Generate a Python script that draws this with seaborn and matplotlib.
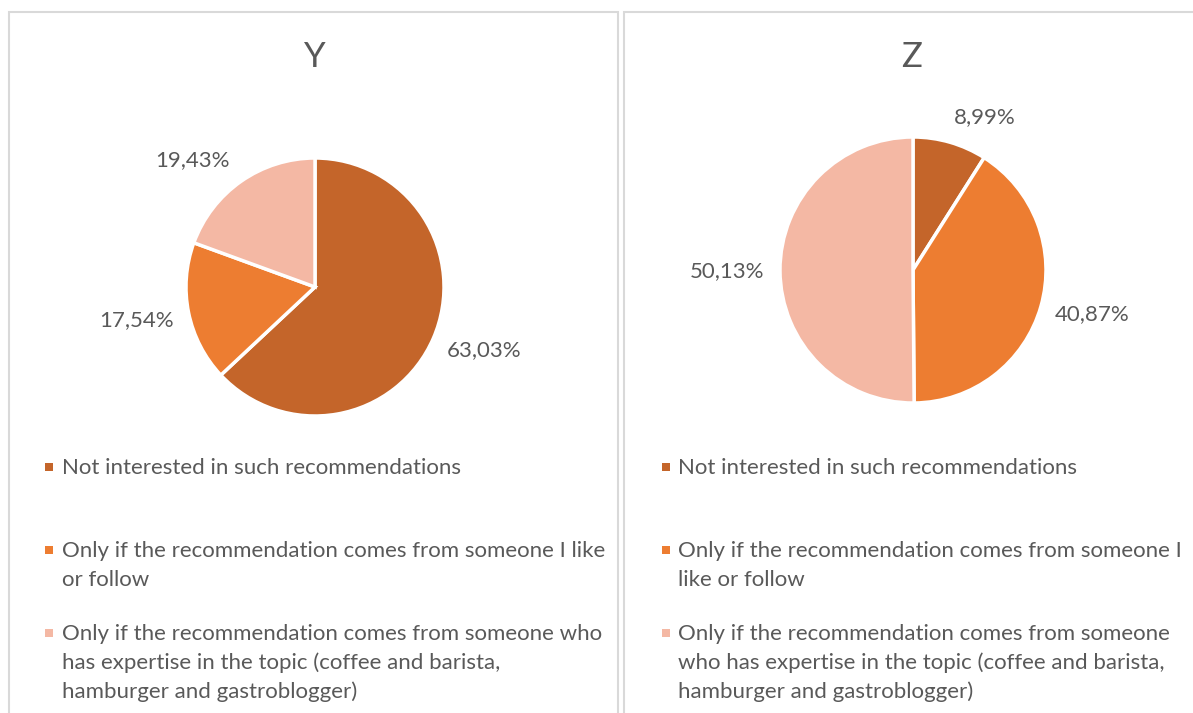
import matplotlib
matplotlib.use("Agg")
import matplotlib.pyplot as plt
import seaborn as sns
import numpy as np
from matplotlib.patches import Rectangle

# chart data
panel_titles = ["Y", "Z"]
answers = [
    "Not interested in such recommendations",
    "Only if the recommendation comes from someone I like or follow",
    "Only if the recommendation comes from someone who has expertise in the topic "
    "(coffee and barista, hamburger and gastroblogger)",
]
share_y = [63.03, 17.54, 19.43]
share_z = [8.99, 40.87, 50.13]

colors = ["#C4652A", "#ED7D31", "#F4B8A4"]
text_color = "#595959"
border_color = "#D9D9D9"

sns.set_style("white")
plt.rcParams["font.family"] = ["Lato", "DejaVu Sans"]

W, H = 1193, 713
fig = plt.figure(figsize=(W / 100, H / 100), dpi=100)
renderer = fig.canvas.get_renderer()

FS = 16


def fx(x):
    return x / W


def fy(y):
    return 1 - y / H


def wrap_px(text, max_w, size):
    prop = matplotlib.font_manager.FontProperties(family=plt.rcParams["font.family"], size=size)
    lines, cur = [], ""
    for word in text.split():
        trial = word if not cur else cur + " " + word
        w, _, _ = renderer.get_text_width_height_descent(trial, prop, ismath=False)
        if w <= max_w or not cur:
            cur = trial
        else:
            lines.append(cur)
            cur = word
    lines.append(cur)
    return lines


# panel borders
fig.patches.append(Rectangle((fx(9), -0.1), fx(618) - fx(9), fy(12) + 0.1, transform=fig.transFigure,
                             fill=False, edgecolor=border_color, linewidth=1.5))
fig.patches.append(Rectangle((fx(624), -0.1), 0.6, fy(12) + 0.1, transform=fig.transFigure,
                             fill=False, edgecolor=border_color, linewidth=1.5))

# label placement (outside end, nudged like Excel's best fit)
panels = [
    dict(title=panel_titles[0], values=share_y, cx=315, cy=287, r=129, tx=315,
         dist=[1.40, 1.41, 1.37], shift=[3, -1, 9], mx=49, lx=62, lw=548),
    dict(title=panel_titles[1], values=share_z, cx=913, cy=270, r=133, tx=912,
         dist=[1.27, 1.39, 1.40], shift=[-9, 2, 0], mx=666, lx=678, lw=507),
]

for p in panels:
    r = p["r"]
    ax = fig.add_axes([fx(p["cx"] - 1.6 * r), fy(p["cy"] + 1.6 * r), 3.2 * r / W, 3.2 * r / H])
    wedges, _ = ax.pie(p["values"], colors=colors, startangle=90, counterclock=False,
                       wedgeprops=dict(edgecolor="white", linewidth=2.5))
    ax.set_xlim(-1.6, 1.6)
    ax.set_ylim(-1.6, 1.6)
    ax.axis("off")

    for w, v, d, s in zip(wedges, p["values"], p["dist"], p["shift"]):
        th = np.deg2rad((w.theta1 + w.theta2) / 2 + s)
        ax.text(d * np.cos(th), d * np.sin(th), f"{v:.2f}".replace(".", ",") + "%",
                ha="center", va="center", fontsize=FS, color=text_color)

    fig.text(fx(p["tx"]), fy(57), p["title"], ha="center", va="center",
             fontsize=25, color=text_color)

    # legend below the pie
    for k, label in enumerate(answers):
        base = 474 + 83 * k
        fig.patches.append(Rectangle((fx(p["mx"] - 4), fy(base - 3)), 8 / W, 8 / H,
                                     transform=fig.transFigure, facecolor=colors[k],
                                     edgecolor="none"))
        for j, line in enumerate(wrap_px(label, p["lw"], FS)):
            fig.text(fx(p["lx"]), fy(base + 29 * j), line, ha="left", va="baseline",
                     fontsize=FS, color=text_color)

fig.savefig("out.png", dpi=100, facecolor="white")
